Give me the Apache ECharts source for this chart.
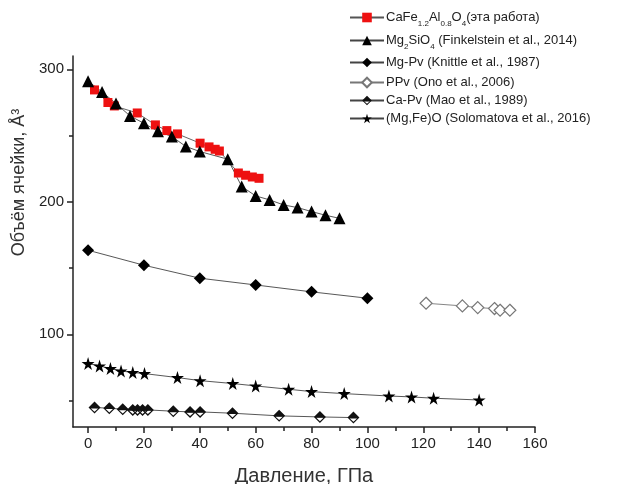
<!DOCTYPE html>
<html>
<head>
<meta charset="utf-8">
<script src="https://cdn.jsdelivr.net/npm/echarts@6/dist/echarts.min.js"></script>
<style>
html,body{margin:0;padding:0;background:#fff;}
#main{width:621px;height:484px;}
</style>
</head>
<body>
<div id="main"></div>
<script>
// данные
var xTicks = [0, 20, 40, 60, 80, 100, 120, 140, 160];
var xMinor = [10, 30, 50, 70, 90, 110, 130, 150];
var yTicks = [100, 200, 300];
var yMinor = [50, 150, 250];

var pCaFe = [2.3, 7.1, 9.4, 17.6, 24.1, 28.2, 32, 40.1, 43.3, 45.5, 47, 53.8, 56.4, 58.8, 61.2];
var vCaFe = [284.4, 274.9, 272.3, 267, 258, 253.7, 251.2, 244.2, 241.4, 239.6, 238.3, 221.7, 220, 218.7, 217.7];

var pMg2 = [0, 5, 10, 15, 20, 25, 30, 35, 40, 50, 55, 60, 65, 70, 75, 80, 85, 90];
var vMg2 = [291, 282.9, 274.1, 264.8, 259.2, 253.2, 249.2, 241.7, 237.9, 232.1, 211.5, 204.4, 201.4, 197.6, 195.6, 192.6, 189.8, 187.5];

var pMgPv = [0, 20, 40, 60, 80, 100];
var vMgPv = [163.4, 152.1, 142.3, 137.2, 132, 127.2];

var pPPv = [121, 134, 139.5, 145.5, 147.5, 151];
var vPPv = [123.4, 121.4, 120.1, 119.4, 118.1, 118.1];

var pCaPv = [2.3, 7.6, 12.4, 16, 17.7, 19.5, 21.4, 30.5, 36.5, 40.1, 51.7, 68.4, 83, 95];
var vCaPv = [44.7, 44.2, 43.4, 42.9, 42.9, 42.9, 42.9, 41.9, 41.4, 41.4, 40.4, 38.4, 37.6, 37.1];

var pMgFeO = [0, 4.1, 8, 11.8, 16, 20.2, 32, 40.1, 51.8, 60, 71.8, 80, 91.7, 107.7, 115.8, 123.7, 140];
var vMgFeO = [77.9, 76.1, 74.1, 72.3, 71.1, 70.3, 67.3, 65, 62.8, 61, 58.5, 56.7, 55.2, 53.4, 52.7, 51.7, 50.4];

var names = [
    'CaFe1.2Al0.8O4(эта работа)',
    'Mg2SiO4 (Finkelstein et al., 2014)',
    'Mg-Pv (Knittle et al., 1987)',
    'PPv (Ono et al., 2006)',
    'Ca-Pv (Mao et al., 1989)',
    '(Mg,Fe)O (Solomatova et al., 2016)'
];
// подписи легенды с индексами
var richNames = {};
richNames[names[0]] = '{n|CaFe}{s|1.2}{n|Al}{s|0.8}{n|O}{s|4}{n|(эта работа)}';
richNames[names[1]] = '{n|Mg}{s|2}{n|SiO}{s|4}{n| (Finkelstein et al., 2014)}';

function zip(a, b) {
    var out = [];
    for (var i = 0; i < a.length; i++) out.push([a[i], b[i]]);
    return out;
}

var starPath = 'path://M50,0 L61,35 L98,35 L68,57 L79,91 L50,70 L21,91 L32,57 L2,35 L39,35 Z';
// ромб: верх залит, низ пустой
var halfDiamond = 'path://M10,0 L20,10 L10,20 L0,10 Z M4,11.5 L10,17 L16,11.5 Z';

var FONT = '"Liberation Sans", Arial, sans-serif';
var legendTops = [11, 34, 56, 76, 94, 112];

var legends = names.map(function (n, i) {
    return {
        data: [n],
        left: 349,
        top: legendTops[i],
        padding: 0,
        itemWidth: 34,
        itemHeight: 12,
        selectedMode: false,
        formatter: function (name) { return richNames[name] || name; },
        textStyle: {
            fontFamily: FONT, fontSize: 13, color: '#222', padding: [0, 0, 0, -3],
            rich: {
                n: { fontFamily: FONT, fontSize: 13, color: '#222', lineHeight: 20 },
                s: { fontFamily: FONT, fontSize: 8, color: '#222', verticalAlign: 'bottom', lineHeight: 13 }
            }
        }
    };
});

function lineSeries(name, data, symbol, size, item, lineColor) {
    return {
        name: name,
        type: 'line',
        data: data,
        symbol: symbol,
        symbolSize: size,
        showSymbol: true,
        itemStyle: item,
        lineStyle: { color: lineColor || '#444', width: 0.9 },
        emphasis: { disabled: true },
        z: 3
    };
}

var myChart = echarts.init(document.getElementById('main'));
var option = {
    animation: false,
    backgroundColor: '#fff',
    legend: legends,
    grid: { left: 73, right: 86, top: 56, bottom: 57, outerBoundsMode: 'none', containLabel: false },
    xAxis: [{
        type: 'value', min: -5.4, max: 160, position: 'bottom',
        name: 'Давление, ГПа', nameLocation: 'middle', nameGap: 39,
        nameTextStyle: { fontFamily: FONT, fontSize: 20, color: '#333' },
        axisLine: { onZero: false, lineStyle: { color: '#222', width: 1.5 } },
        axisTick: { customValues: xTicks, length: 6, lineStyle: { color: '#222', width: 1.5 } },
        axisLabel: { customValues: xTicks, fontFamily: FONT, fontSize: 15, color: '#222', margin: 9 },
        splitLine: { show: false }
    }, {
        type: 'value', min: -5.4, max: 160, position: 'bottom', gridIndex: 0,
        axisLine: { show: false, onZero: false },
        axisTick: { customValues: xMinor, length: 4, lineStyle: { color: '#222', width: 1.5 } },
        axisLabel: { show: false },
        splitLine: { show: false }
    }],
    yAxis: [{
        type: 'value', min: 30, max: 310, position: 'left',
        name: 'Объём ячейки, Å³', nameLocation: 'middle', nameGap: 43,
        nameTextStyle: { fontFamily: FONT, fontSize: 18, color: '#333', padding: [0, 0, 0, 118] },
        axisLine: { show: true, onZero: false, lineStyle: { color: '#222', width: 1.5 } },
        axisTick: { show: true, customValues: yTicks, length: 6, lineStyle: { color: '#222', width: 1.5 } },
        axisLabel: { customValues: yTicks, fontFamily: FONT, fontSize: 15, color: '#222', margin: 9 },
        splitLine: { show: false }
    }, {
        type: 'value', min: 30, max: 310, position: 'left', gridIndex: 0,
        axisLine: { show: false, onZero: false },
        axisTick: { show: true, customValues: yMinor, length: 4, lineStyle: { color: '#222', width: 1.5 } },
        axisLabel: { show: false },
        splitLine: { show: false }
    }],
    series: [
        lineSeries(names[0], zip(pCaFe, vCaFe), 'rect', 9, { color: '#ee1111' }, '#555'),
        lineSeries(names[1], zip(pMg2, vMg2), 'triangle', 12, { color: '#000' }),
        lineSeries(names[2], zip(pMgPv, vMgPv), 'diamond', 12, { color: '#000' }),
        lineSeries(names[3], zip(pPPv, vPPv), 'diamond', 12,
            { color: '#fff', borderColor: '#777', borderWidth: 1.2 }, '#777'),
        lineSeries(names[4], zip(pCaPv, vCaPv), halfDiamond, 12, { color: '#111' }),
        lineSeries(names[5], zip(pMgFeO, vMgFeO), starPath, 13, { color: '#000' })
    ]
};
myChart.setOption(option);
</script>
</body>
</html>
